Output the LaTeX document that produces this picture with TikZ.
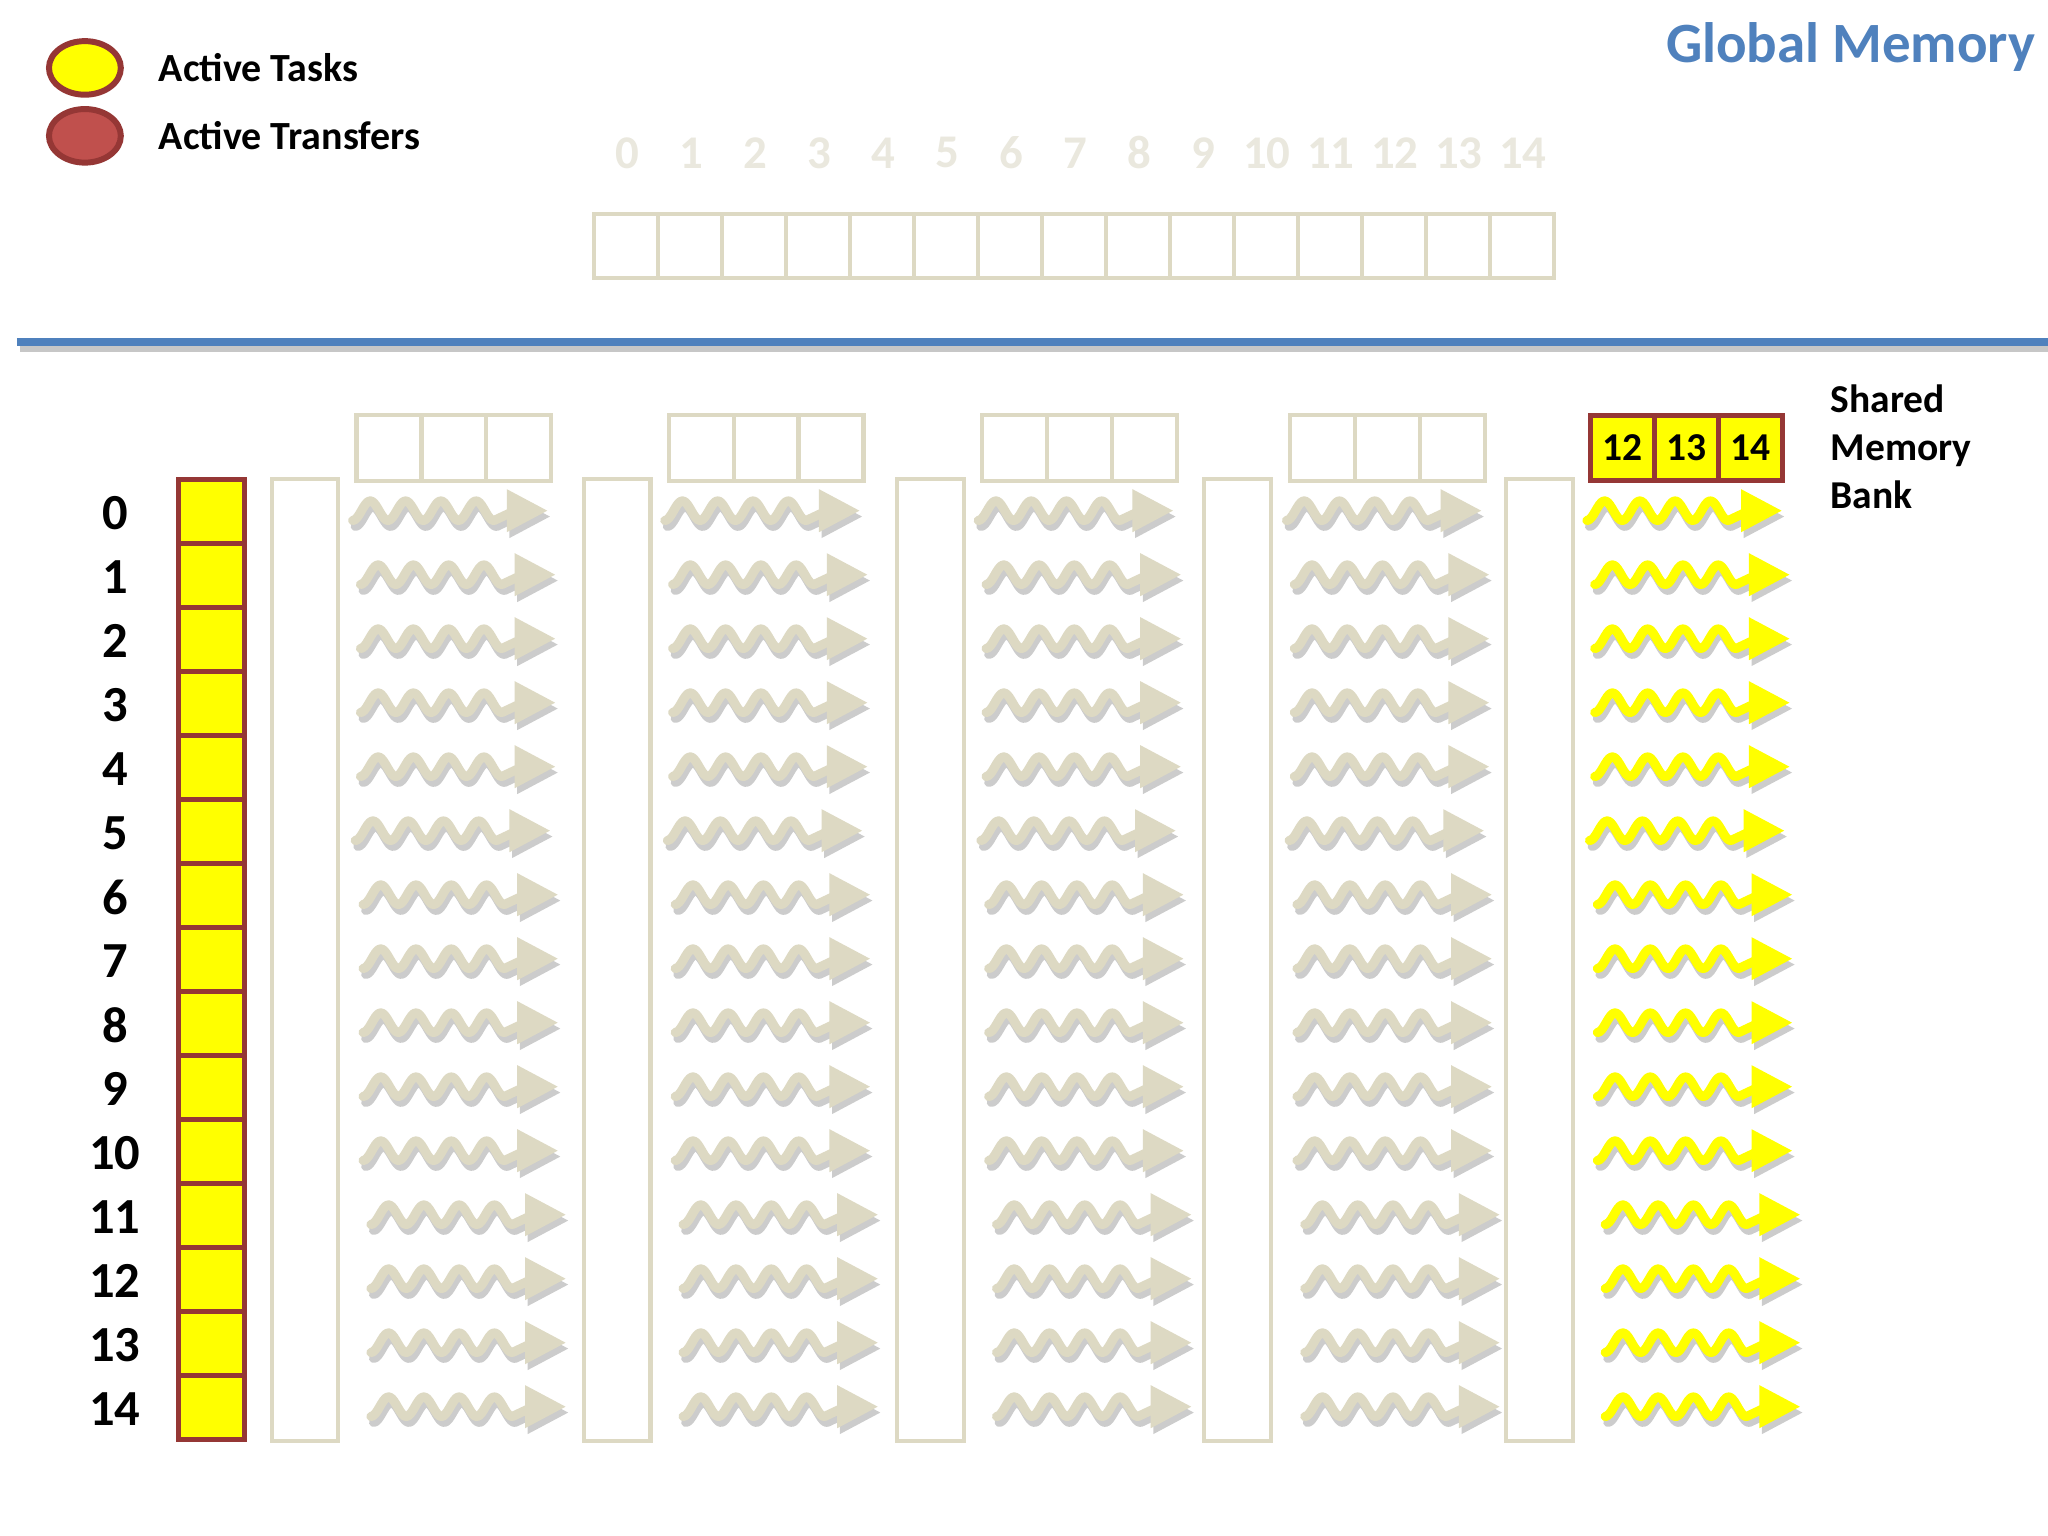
\documentclass[tikz,border=0pt]{standalone}
\usepackage{fontspec}
\setmainfont{Carlito}
\usetikzlibrary{shapes.geometric}
\definecolor{beige}{HTML}{DDD9C3}
\definecolor{dred}{HTML}{953735}
\definecolor{rfill}{HTML}{C0504D}
\definecolor{gblue}{HTML}{4F81BD}
\definecolor{lightnum}{HTML}{EAE8DE}
\definecolor{yel}{HTML}{FFFF00}
\tikzset{
  legendell/.style={ellipse, draw=dred, line width=1.3pt, minimum width=0.55cm, minimum height=0.41cm, inner sep=0pt},
  legtext/.style={anchor=west, inner sep=0pt, font=\bfseries\fontsize{8.7}{10}\selectfont},
  numtext/.style={inner sep=0pt, font=\bfseries\fontsize{11}{12}\selectfont},
  topnum/.style={inner sep=0pt, text=lightnum, font=\bfseries\fontsize{10.2}{12}\selectfont},
  gcell/.style={draw=beige, line width=0.9pt, minimum width=0.49cm, minimum height=0.49cm, inner sep=0pt},
  scell/.style={draw=beige, line width=0.9pt, minimum width=0.497cm, minimum height=0.50cm, inner sep=0pt},
  ysmall/.style={draw=dred, fill=yel, line width=1.1pt, minimum width=0.49cm, minimum height=0.50cm, inner sep=0pt, font=\bfseries\fontsize{8.6}{10}\selectfont},
  ycell/.style={draw=dred, fill=yel, line width=1.1pt, minimum width=0.50cm, minimum height=0.49cm, inner sep=0pt},
  tallcol/.style={draw=beige, line width=0.9pt, minimum width=0.51cm, minimum height=7.36cm, inner sep=0pt},
  wavy/.pic={
    \begin{scope}[shift={(2,4.5)}]
      \draw[black, opacity=0.2, line width=2pt, line cap=round, line join=round]
        plot[domain=0:110, samples=70] (\x,{7.5*cos(13.3333*\x)}) -- (120,2);
      \fill[black, opacity=0.2] (118,-16.5) -- (149,0) -- (118,16.5) -- cycle;
    \end{scope}
    \draw[#1, line width=2pt, line cap=round, line join=round]
      plot[domain=0:110, samples=70] (\x,{7.5*cos(13.3333*\x)}) -- (120,2);
    \fill[#1] (118,-16.5) -- (149,0) -- (118,16.5) -- cycle;
  }
}
\begin{document}
\begin{tikzpicture}[x=0.01cm, y=-0.01cm]
\useasboundingbox (0,0) rectangle (1568,1176);
\fill[white] (0,0) rectangle (1568,1176);

% legend
\node[legendell, fill=yel] (lt) at (65,52) {};
\node[legendell, fill=rfill] (lr) at (65,104) {};
\node[legtext] (tlt) at (121,52) {Active Tasks};
\node[legtext] (tlr) at (121,104) {Active Transfers};

% title
\node[anchor=east, inner sep=0pt, text=gblue, font=\bfseries\fontsize{12.4}{14}\selectfont] (gm) at (1559,36) {Global Memory};

% global memory array
\foreach \i in {0,...,14} {
  \node[topnum] (gn\i) at ({480+49*\i},117) {\i};
  \node[gcell] (gc\i) at ({479.5+49*\i},188.5) {};
}

% separator line
\coordinate (bls) at (15,267.5);
\coordinate (brs) at (1568,267.5);
\draw[black, opacity=0.22, line width=1.3pt] (bls) -- (brs);
\coordinate (bl) at (13,262);
\coordinate (br) at (1568,262);
\draw[gblue, line width=1.7pt] (bl) -- (br);

% row labels and yellow column
\foreach \r in {0,...,14} {
  \node[numtext] (rl\r) at (88,{393+49*\r}) {\r};
  \node[ycell] (yc\r) at (162,{391.5+49*\r}) {};
}

% tall empty columns
\foreach \cx [count=\k] in {233.5,472.5,712.5,947.5,1178.5} {
  \node[tallcol] (col\k) at (\cx,735) {};
}

% small shared-memory arrays (empty)
\foreach \sx [count=\k] in {273,512,752,988} {
  \foreach \j in {0,1,2} {
    \node[scell] (sm\k\j) at ({\sx+24.85+49.7*\j},343) {};
  }
}
% active shared-memory bank
\node[ysmall] (sa0) at (1242.5,343) {12};
\node[ysmall] (sa1) at (1291.5,343) {13};
\node[ysmall] (sa2) at (1340.5,343) {14};
\node[anchor=west, align=left, inner sep=0pt, font=\bfseries\fontsize{8.6}{10.5}\selectfont] (smb) at (1401,342) {Shared\\Memory\\Bank};

% wavy arrows
\foreach \g in {270,509,749,985} {
  \foreach \dx [count=\ri from 0] in {0,6,6,6,6,2,8,8,8,8,8,14,14,14,14} {
    \pic at ({\g+\dx},{391+49*\ri}) {wavy=beige};
  }
}
\foreach \dx [count=\ri from 0] in {0,6,6,6,6,2,8,8,8,8,8,14,14,14,14} {
  \pic at ({1215+\dx},{391+49*\ri}) {wavy=yel};
}
\end{tikzpicture}
\end{document}
